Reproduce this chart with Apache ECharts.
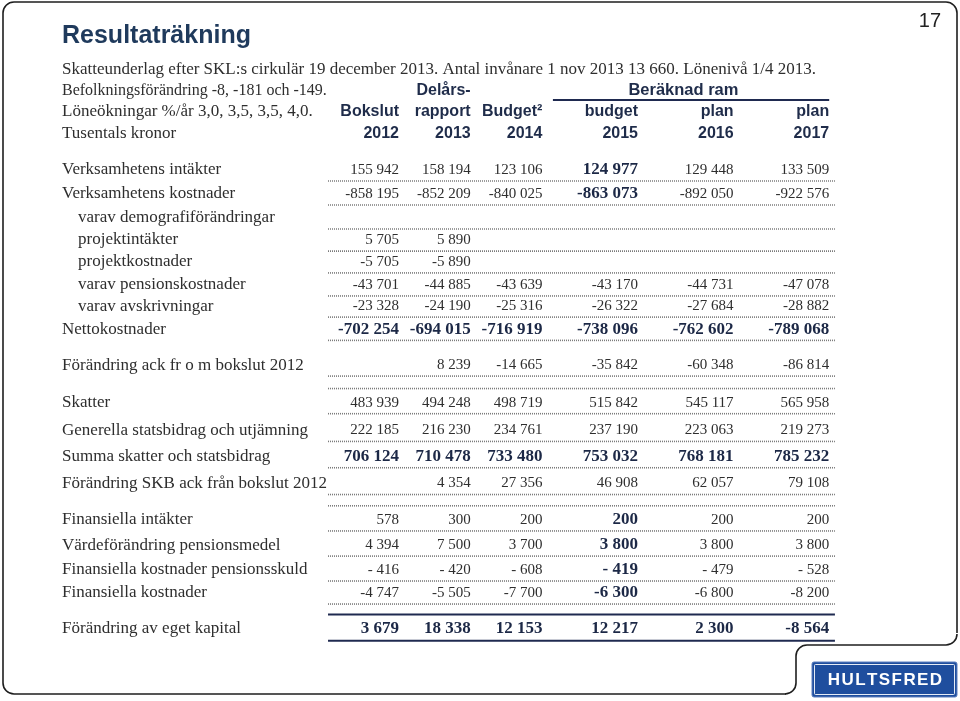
<!DOCTYPE html>
<html>
<head>
<meta charset="utf-8">
<script src="https://cdn.jsdelivr.net/npm/echarts@6/dist/echarts.min.js"></script>
<style>html,body{margin:0;padding:0;background:#fff}#c{width:960px;height:701px}</style>
</head>
<body>
<div id="c"></div>
<script>
// ---------- DATA ----------
const rowLabels = [
  'Verksamhetens intäkter',
  'Verksamhetens kostnader',
  'varav demografiförändringar',
  'projektintäkter',
  'projektkostnader',
  'varav pensionskostnader',
  'varav avskrivningar',
  'Nettokostnader',
  'Förändring ack fr o m bokslut 2012',
  'Skatter',
  'Generella statsbidrag och utjämning',
  'Summa skatter och statsbidrag',
  'Förändring SKB ack från bokslut 2012',
  'Finansiella intäkter',
  'Värdeförändring pensionsmedel',
  'Finansiella kostnader pensionsskuld',
  'Finansiella kostnader',
  'Förändring av eget kapital'
];
const headerTop = ['', 'Delårs-', '', '', '', ''];
const headerGroup = 'Beräknad ram';
const headerMid = ['Bokslut', 'rapport', 'Budget²', 'budget', 'plan', 'plan'];
const headerYears = ['2012', '2013', '2014', '2015', '2016', '2017'];

const col2012 = [155942, -858195, null, 5705, -5705, -43701, -23328, -702254, null, 483939, 222185, 706124, null, 578, 4394, -416, -4747, 3679];
const col2013 = [158194, -852209, null, 5890, -5890, -44885, -24190, -694015, 8239, 494248, 216230, 710478, 4354, 300, 7500, -420, -5505, 18338];
const col2014 = [123106, -840025, null, null, null, -43639, -25316, -716919, -14665, 498719, 234761, 733480, 27356, 200, 3700, -608, -7700, 12153];
const col2015 = [124977, -863073, null, null, null, -43170, -26322, -738096, -35842, 515842, 237190, 753032, 46908, 200, 3800, -419, -6300, 12217];
const col2016 = [129448, -892050, null, null, null, -44731, -27684, -762602, -60348, 545117, 223063, 768181, 62057, 200, 3800, -479, -6800, 2300];
const col2017 = [133509, -922576, null, null, null, -47078, -28882, -789068, -86814, 565958, 219273, 785232, 79108, 200, 3800, -528, -8200, -8564];
const columns = [col2012, col2013, col2014, col2015, col2016, col2017];

const subtitleLines = [
  'Skatteunderlag efter SKL:s cirkulär 19 december 2013. Antal invånare 1 nov 2013 13 660. Lönenivå 1/4 2013.',
  'Befolkningsförändring -8, -181 och -149.',
  'Löneökningar %/år 3,0, 3,5, 3,5, 4,0.',
  'Tusentals kronor'
];
const titleText = 'Resultaträkning';
const pageNo = '17';
const logoText = 'HULTSFRED';

// ---------- LAYOUT / STYLE ----------
const X_ORIGIN = 399, X_UNIT = 23.9;
const Y_ORIGIN = 170, Y_UNIT = 23.5;
const X_MIN = -14.5, X_MAX = 19, Y_MIN = -5, Y_MAX = 21;
const colX = [0, 3, 6, 10, 14, 18];
const labelX = -14.1;
const rowY = [0, 1.02, 2.04, 2.98, 3.91, 4.89, 5.79, 6.78, 8.3, 9.9, 11.08, 12.2, 13.34, 14.89, 15.96, 17.02, 18.0, 19.52];
const headY = [-3.40, -2.47, -1.53];
const indentRows = [2, 3, 4, 5, 6];
const boldRows = [7, 11, 17];
const boldCol3Rows = [0, 1, 13, 14, 15, 16];
const sepAbove = {9: 'dot', 13: 'dot', 17: 'solid'};
const sepX = [-2.97, 18.24];
const groupLine = {x0: 6.44, x1: 18, y: -2.98, labelX: 11.9};
const subtitleY = [70, 91, 112, 134];
const subtitleSize = [17, 16, 17, 17];

const SERIF = '"Liberation Serif", "DejaVu Serif", serif';
const SANS = '"Liberation Sans", Arial, sans-serif';
const TXT = '#2e2e2e', NAVY = '#1c2846', HEAD = '#1f2c4a';
const FRAME = '#1e1e1e';

function fmt(v) {
  if (v == null) return '';
  const a = Math.abs(v);
  const s = String(a).replace(/\B(?=(\d{3})+(?!\d))/g, ' ');
  if (v < 0) return (a < 1000 ? '- ' : '-') + s;
  return s;
}

// ---------- build series data ----------
const cellData = [];
columns.forEach((col, ci) => {
  col.forEach((v, ri) => {
    if (v == null) return;
    const bold = boldRows.includes(ri) || (ci === 3 && boldCol3Rows.includes(ri));
    cellData.push({value: [colX[ci], rowY[ri]], text: fmt(v), kind: bold ? 'bold' : 'num'});
  });
});
headerTop.forEach((t, ci) => { if (t) cellData.push({value: [colX[ci], headY[0]], text: t, kind: 'head'}); });
headerMid.forEach((t, ci) => cellData.push({value: [colX[ci], headY[1]], text: t, kind: 'head'}));
headerYears.forEach((t, ci) => cellData.push({value: [colX[ci], headY[2]], text: t, kind: 'head'}));
cellData.push({value: [groupLine.labelX, headY[0]], text: headerGroup, kind: 'group'});

const labelData = rowLabels.map((t, ri) => ({value: [labelX, rowY[ri]], text: t, indent: indentRows.includes(ri)}));

const sepData = [];
rowY.forEach((y, ri) => {
  if (sepAbove[ri]) sepData.push({value: [sepX[0], y - 0.6, sepX[1]], kind: sepAbove[ri]});
  sepData.push({value: [sepX[0], y + (ri === 17 ? 0.51 : 0.47), sepX[1]], kind: ri === 17 ? 'solid' : 'dot'});
});
sepData.push({value: [groupLine.x0, groupLine.y, groupLine.x1], kind: 'solid'});

const styles = {
  num:   {font: '15px ' + SERIF, fill: TXT, align: 'right'},
  bold:  {font: 'bold 17px ' + SERIF, fill: NAVY, align: 'right'},
  head:  {font: 'bold 16px ' + SANS, fill: HEAD, align: 'right'},
  group: {font: 'bold 16.5px ' + SANS, fill: HEAD, align: 'center'}
};

const gridLeft = X_ORIGIN + X_MIN * X_UNIT;
const gridWidth = (X_MAX - X_MIN) * X_UNIT;
const gridTop = Y_ORIGIN + Y_MIN * Y_UNIT;
const gridHeight = (Y_MAX - Y_MIN) * Y_UNIT;

const frameLine = {stroke: FRAME, lineWidth: 1.6, fill: null};
const chart = echarts.init(document.getElementById('c'), null, {renderer: 'canvas'});
chart.setOption({
  animation: false,
  backgroundColor: '#ffffff',
  grid: {left: gridLeft, top: gridTop, width: gridWidth, height: gridHeight, containLabel: false},
  xAxis: {type: 'value', min: X_MIN, max: X_MAX, show: false},
  yAxis: {type: 'value', min: Y_MIN, max: Y_MAX, inverse: true, show: false},
  graphic: [
    {type: 'rect', silent: true, shape: {x: 3, y: 2, width: 954, height: 692, r: 11}, style: {fill: 'none', stroke: FRAME, lineWidth: 1.6}},
    {type: 'rect', silent: true, shape: {x: 786, y: 646, width: 174, height: 55}, style: {fill: '#ffffff'}},
    {type: 'rect', silent: true, shape: {x: 946, y: 633, width: 14, height: 14}, style: {fill: '#ffffff'}},
    {type: 'arc', silent: true, shape: {cx: 946, cy: 634, r: 11, startAngle: 0, endAngle: Math.PI / 2}, style: frameLine},
    {type: 'line', silent: true, shape: {x1: 807, y1: 645, x2: 946, y2: 645}, style: frameLine},
    {type: 'arc', silent: true, shape: {cx: 807, cy: 656, r: 11, startAngle: Math.PI, endAngle: Math.PI * 1.5}, style: frameLine},
    {type: 'line', silent: true, shape: {x1: 796, y1: 656, x2: 796, y2: 683}, style: frameLine},
    {type: 'arc', silent: true, shape: {cx: 785, cy: 683, r: 11, startAngle: 0, endAngle: Math.PI / 2}, style: frameLine},
    {type: 'text', x: 62, y: 36, style: {text: titleText, font: 'bold 25px ' + SANS, fill: '#1f3a5c', align: 'left', verticalAlign: 'middle'}},
    {type: 'text', x: 941, y: 21, style: {text: pageNo, font: '20px ' + SANS, fill: '#222', align: 'right', verticalAlign: 'middle'}},
    ...subtitleLines.map((t, i) => ({type: 'text', x: 62, y: subtitleY[i],
      style: {text: t, font: subtitleSize[i] + 'px ' + SERIF, fill: TXT, align: 'left', verticalAlign: 'middle'}})),
    {type: 'rect', silent: true, shape: {x: 812, y: 662, width: 145, height: 35, r: 2}, style: {fill: '#1f4e9e', stroke: '#5c7fbf', lineWidth: 1}},
    {type: 'rect', silent: true, shape: {x: 814.5, y: 664.5, width: 140, height: 30, r: 1}, style: {fill: 'none', stroke: '#e6ecf6', lineWidth: 1}},
    {type: 'text', x: 885, y: 680, style: {text: logoText.split('').join('\u200A'), font: 'bold 17px ' + SANS, fill: '#ffffff', align: 'center', verticalAlign: 'middle'}}
  ],
  series: [
    {
      type: 'custom', silent: true, data: sepData, z: 2,
      renderItem(params, api) {
        const item = sepData[params.dataIndex];
        const p1 = api.coord([api.value(0), api.value(1)]);
        const p2 = api.coord([api.value(2), api.value(1)]);
        const solid = item.kind === 'solid';
        return {type: 'line', shape: {x1: p1[0], y1: p1[1], x2: p2[0], y2: p1[1]},
          style: solid ? {stroke: '#1f2a50', lineWidth: 2} : {stroke: '#7a7a7a', lineWidth: 1.6, lineDash: [1, 1]}};
      }
    },
    {
      type: 'custom', silent: true, data: cellData, z: 3,
      renderItem(params, api) {
        const item = cellData[params.dataIndex];
        const p = api.coord([api.value(0), api.value(1)]);
        const s = styles[item.kind];
        return {type: 'text', x: p[0], y: p[1],
          style: {text: item.text, font: s.font, fill: s.fill, align: s.align, verticalAlign: 'middle'}};
      }
    },
    {
      type: 'custom', silent: true, data: labelData, z: 3,
      renderItem(params, api) {
        const item = labelData[params.dataIndex];
        const p = api.coord([api.value(0), api.value(1)]);
        return {type: 'text', x: p[0] + (item.indent ? 16 : 0), y: p[1],
          style: {text: item.text, font: '17px ' + SERIF, fill: TXT, align: 'left', verticalAlign: 'middle'}};
      }
    }
  ]
});
</script>
</body>
</html>
